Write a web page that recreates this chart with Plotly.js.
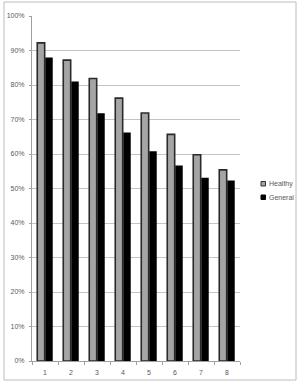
<!DOCTYPE html>
<html><head><meta charset="utf-8">
<script src="https://cdn.plot.ly/plotly-3.0.1.min.js"></script>
<style>html,body{margin:0;padding:0;background:#fff}#c{width:300px;height:388px}</style>
</head><body><div id="c"></div>
<script>
var categories = ['1','2','3','4','5','6','7','8'];
var healthy = [0.922, 0.872, 0.819, 0.762, 0.719, 0.657, 0.598, 0.554];
var general = [0.880, 0.810, 0.718, 0.662, 0.608, 0.567, 0.531, 0.523];
var seriesNames = ['Healthy', 'General'];
var yTicks = [0,0.1,0.2,0.3,0.4,0.5,0.6,0.7,0.8,0.9,1.0];

var fontFam = '"Liberation Sans Narrow", "Liberation Sans", Arial, sans-serif';
var W = 300, H = 388, L = 32, R = 60, T = 16, B = 27;
var pw = W - L - R, ph = H - T - B;
function px(x){ return (x - L) / pw; }
function py(y){ return (H - B - y) / ph; }

var traces = [
  {type:'bar', name:seriesNames[0], x:categories, y:healthy,
   marker:{color:'#a5a5a5', line:{color:'#2a2a2a', width:1.6}}},
  {type:'bar', name:seriesNames[1], x:categories, y:general,
   marker:{color:'#000000', line:{color:'#000000', width:0}}}
];

var shapes = [
  {type:'rect', xref:'paper', yref:'paper', x0:px(4), x1:px(296), y0:py(380), y1:py(2),
   line:{color:'#bcbcbc', width:1}, fillcolor:'rgba(0,0,0,0)', layer:'below'},
  {type:'rect', xref:'paper', yref:'paper', x0:px(261), x1:px(265.5), y0:py(186), y1:py(181.5),
   line:{color:'#333333', width:1}, fillcolor:'#a5a5a5'},
  {type:'rect', xref:'paper', yref:'paper', x0:px(261), x1:px(265.5), y0:py(199.5), y1:py(195),
   line:{color:'#000000', width:1}, fillcolor:'#000000'}
];
var annotations = [
  {xref:'paper', yref:'paper', x:px(266.5), y:py(184), xanchor:'left', yanchor:'middle',
   text:seriesNames[0], showarrow:false, font:{family:fontFam, size:7, color:'#595959'}},
  {xref:'paper', yref:'paper', x:px(266.5), y:py(197.5), xanchor:'left', yanchor:'middle',
   text:seriesNames[1], showarrow:false, font:{family:fontFam, size:7, color:'#595959'}}
];

var layout = {
  width:W, height:H,
  margin:{l:L, r:R, t:T, b:B, pad:0},
  paper_bgcolor:'#ffffff', plot_bgcolor:'#ffffff',
  showlegend:false,
  barmode:'group', bargap:0.38, bargroupgap:0.08,
  font:{family:fontFam, size:7, color:'#595959'},
  xaxis:{type:'category', tickson:'boundaries', ticks:'outside', ticklen:3, tickcolor:'#a0a0a0',
         ticklabelstandoff:5,
         showline:true, linecolor:'#a0a0a0', linewidth:1, showgrid:false, zeroline:false,
         tickfont:{family:fontFam, size:7, color:'#595959'}, fixedrange:true},
  yaxis:{range:[0,1], tickvals:yTicks, tickformat:'.0%', showline:true, linecolor:'#a0a0a0', linewidth:1,
         ticks:'outside', ticklen:2, tickcolor:'#a0a0a0', ticklabelstandoff:3,
         showgrid:true, gridcolor:'#c4c4c4', gridwidth:1, zeroline:false,
         tickfont:{family:fontFam, size:7, color:'#595959'}, fixedrange:true},
  shapes:shapes, annotations:annotations
};
Plotly.newPlot('c', traces, layout, {staticPlot:true, displayModeBar:false});
</script></body></html>
